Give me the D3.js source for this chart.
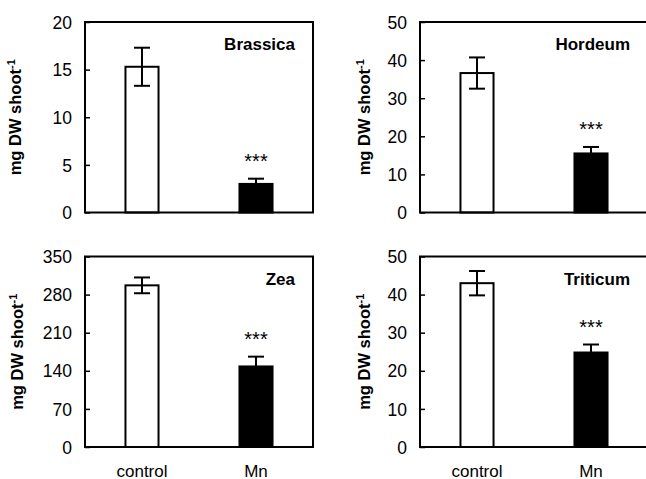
<!DOCTYPE html>
<html><head><meta charset="utf-8">
<script src="https://cdn.jsdelivr.net/npm/d3@7"></script>
<style>body{margin:0;background:#fff}svg{display:block}text{font-family:"Liberation Sans",Arial,sans-serif}</style>
</head><body>
<svg id="c" width="646" height="479"></svg>
<script>
const categories = ["control", "Mn"];
const panelNames = ["Brassica", "Hordeum", "Zea", "Triticum"];
const brassicaValues = [15.3, 3.0];
const brassicaErrors = [2.0, 0.55];
const hordeumValues = [36.6, 15.5];
const hordeumErrors = [4.1, 1.7];
const zeaValues = [297, 148];
const zeaErrors = [14.5, 18];
const triticumValues = [43.0, 24.8];
const triticumErrors = [3.2, 2.1];
const brassicaTicks = [0, 5, 10, 15, 20];
const hordeumTicks = [0, 10, 20, 30, 40, 50];
const zeaTicks = [0, 70, 140, 210, 280, 350];
const triticumTicks = [0, 10, 20, 30, 40, 50];
const significance = ["", "***"];

const panels = [
  {name: panelNames[0], values: brassicaValues, errors: brassicaErrors, ticks: brassicaTicks, left: 85, top: 22, labelOff: 64, xlab: false},
  {name: panelNames[1], values: hordeumValues, errors: hordeumErrors, ticks: hordeumTicks, left: 420, top: 22, labelOff: 50, xlab: false},
  {name: panelNames[2], values: zeaValues, errors: zeaErrors, ticks: zeaTicks, left: 85, top: 256.5, labelOff: 62, xlab: true},
  {name: panelNames[3], values: triticumValues, errors: triticumErrors, ticks: triticumTicks, left: 420, top: 256.5, labelOff: 50, xlab: true}
];
const W = 228, H = 190.5;
const svg = d3.select("#c");

panels.forEach(p => {
  const g = svg.append("g").attr("transform", `translate(${p.left},${p.top})`);
  const x = d3.scaleBand().domain(categories).range([0, W]).paddingInner(0.71).paddingOuter(0.355);
  const y = d3.scaleLinear().domain([p.ticks[0], p.ticks[p.ticks.length-1]]).range([H, 0]);

  g.selectAll("rect.bar").data(categories).join("rect")
    .attr("x", d => x(d)).attr("width", x.bandwidth())
    .attr("y", (d,i) => y(p.values[i])).attr("height", (d,i) => H - y(p.values[i]))
    .attr("fill", (d,i) => i === 0 ? "#fff" : "#000")
    .attr("stroke", "#000").attr("stroke-width", 2);

  categories.forEach((c, i) => {
    const cx = x(c) + x.bandwidth()/2;
    const top = y(p.values[i] + p.errors[i]);
    const bot = i === 0 ? y(p.values[i] - p.errors[i]) : y(p.values[i]);
    g.append("line").attr("x1", cx).attr("x2", cx).attr("y1", top).attr("y2", bot).attr("stroke", "#000").attr("stroke-width", 2);
    g.append("line").attr("x1", cx-8).attr("x2", cx+8).attr("y1", top).attr("y2", top).attr("stroke", "#000").attr("stroke-width", 2);
    if (i === 0) g.append("line").attr("x1", cx-8).attr("x2", cx+8).attr("y1", bot).attr("y2", bot).attr("stroke", "#000").attr("stroke-width", 2);
    if (significance[i]) {
      g.append("text").attr("x", cx).attr("y", top - 11).attr("text-anchor", "middle")
        .attr("font-size", 20).text(significance[i]);
    }
  });

  const yAxis = g.append("g").call(d3.axisLeft(y).tickValues(p.ticks).tickSizeInner(-5).tickSizeOuter(0).tickPadding(13));
  yAxis.select(".domain").remove();
  yAxis.selectAll(".tick line").attr("stroke-width", 1.5);
  yAxis.selectAll(".tick text").attr("font-size", 17.5).attr("font-family", "Liberation Sans, Arial, sans-serif").attr("dy", "0.35em");

  g.append("rect").attr("x", 0).attr("y", 0).attr("width", W).attr("height", H)
    .attr("fill", "none").attr("stroke", "#000").attr("stroke-width", 2);

  g.append("text").attr("x", 210).attr("y", 28).attr("text-anchor", "end")
    .attr("font-size", 17).attr("font-weight", "bold").text(p.name);

  const yl = g.append("text").attr("transform", `translate(${-p.labelOff},${H/2}) rotate(-90)`)
    .attr("text-anchor", "middle").attr("font-size", 16.5).attr("font-weight", "bold");
  yl.append("tspan").text("mg DW shoot");
  yl.append("tspan").attr("dy", "-0.55em").attr("font-size", 11).text("-1");

  if (p.xlab) {
    g.append("g").selectAll("text").data(categories).join("text")
      .attr("x", d => x(d) + x.bandwidth()/2).attr("y", H + 29.5)
      .attr("text-anchor", "middle").attr("font-size", 17).text(d => d);
  }
});
</script>
</body></html>
